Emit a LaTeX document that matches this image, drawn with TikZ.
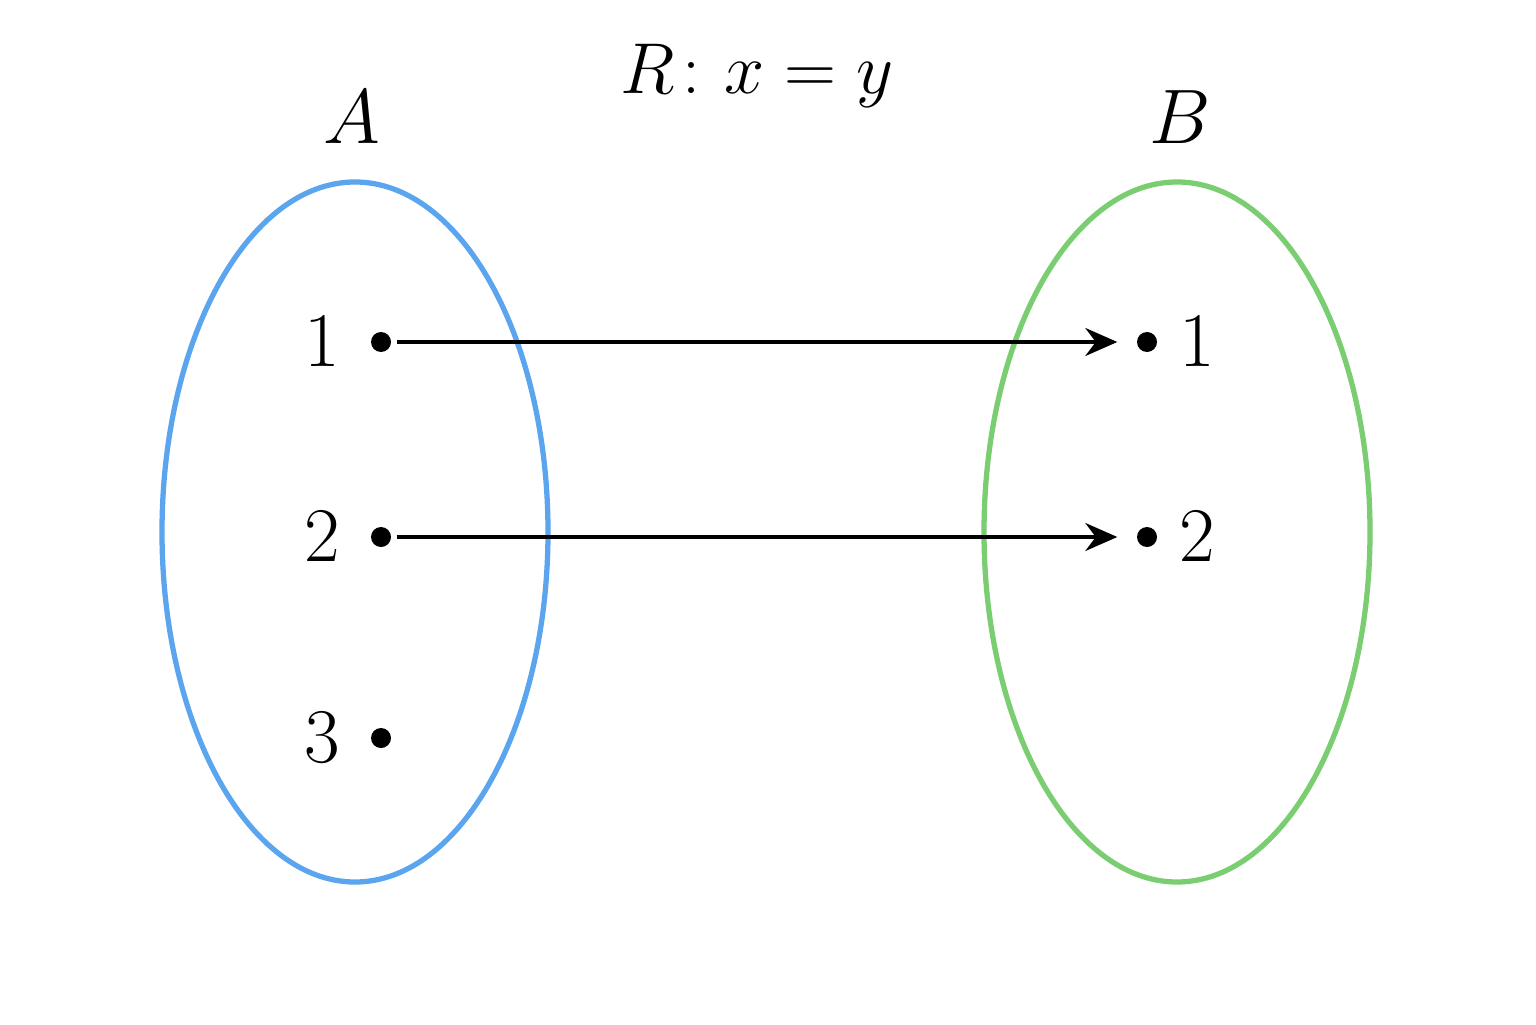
\documentclass[tikz,border=0pt]{standalone}
\usepackage{fix-cm}
\usepackage{amsmath}
\usepackage{xcolor}
\usepackage{tikz}
\usetikzlibrary{arrows.meta, positioning}

\definecolor{setblue}{RGB}{90,165,238}
\definecolor{setgreen}{RGB}{122,205,112}

\begin{document}
\begin{tikzpicture}[>={Stealth[length=0.32cm, width=0.28cm]},
            font=\fontsize{22}{26}\selectfont,
            dot/.style={circle, fill=black, inner sep=0pt, minimum size=0.2cm},
            lab/.style={inner sep=0pt},
            setline/.style={line width=1.5pt}]
            \useasboundingbox (0,0) rectangle (15.36,10.24);

            % ===== sets =====
            \draw[setline, setblue] (3.55,4.92) ellipse (1.93cm and 3.50cm);
            \draw[setline, setgreen] (11.77,4.92) ellipse (1.93cm and 3.50cm);

            \node[font=\fontsize{20.5}{24}\selectfont] (title) at (7.57,9.48) {$R\colon x = y$};
            \node (setA) at (3.52,9.07) {$A$};
            \node (setB) at (11.80,9.07) {$B$};

            % ===== elements of A =====
            \node[dot] (a1) at (3.81,6.82) {};
            \node[dot] (a2) at (3.81,4.87) {};
            \node[dot] (a3) at (3.81,2.86) {};
            \node[lab, left=0.3cm of a1] (la1) {$1$};
            \node[lab, left=0.3cm of a2] (la2) {$2$};
            \node[lab, left=0.3cm of a3] (la3) {$3$};

            % ===== elements of B =====
            \node[dot] (b1) at (11.47,6.82) {};
            \node[dot] (b2) at (11.47,4.87) {};
            \node[lab, right=0.21cm of b1] (lb1) {$1$};
            \node[lab, right=0.21cm of b2] (lb2) {$2$};

            \draw[->, line width=1pt, shorten <=0.05cm, shorten >=0.19cm] (a1) -- (b1);
            \draw[->, line width=1pt, shorten <=0.05cm, shorten >=0.19cm] (a2) -- (b2);
        \end{tikzpicture}
\end{document}
